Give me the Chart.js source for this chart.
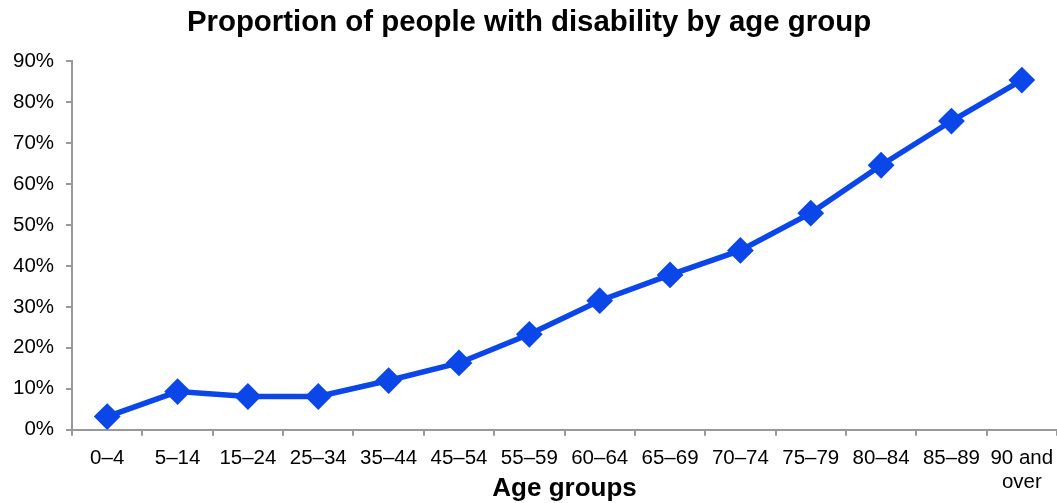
<!DOCTYPE html>
<html><head><meta charset="utf-8">
<script src="https://cdn.jsdelivr.net/npm/chart.js@4"></script>
<style>html,body{margin:0;padding:0;background:#fff}#wrap{width:1057px;height:503px}</style>
</head><body><div id="wrap"><canvas id="c"></canvas></div>
<script>
const categories = ["0–4","5–14","15–24","25–34","35–44","45–54","55–59","60–64","65–69","70–74","75–79","80–84","85–89",["90 and","over"]];
const proportion = [3.2, 9.3, 8.1, 8.1, 12.0, 16.3, 23.3, 31.5, 37.8, 43.8, 52.9, 64.6, 75.4, 85.4];
const yTicks = [0,10,20,30,40,50,60,70,80,90];
const FONT = "'Liberation Sans', Arial, sans-serif";
new Chart(document.getElementById('c'), {
  type: 'line',
  data: { labels: categories, datasets: [{
    data: proportion, borderColor: '#0B47E8', backgroundColor: '#0B47E8',
    borderWidth: 5.5, pointStyle: 'rectRot', pointRadius: 9.5, pointHoverRadius: 9.5, tension: 0
  }]},
  options: {
    responsive: true, maintainAspectRatio: false, animation: false,
    layout: { autoPadding: false, padding: { left: 1, right: 0, top: 0, bottom: 0 } },
    plugins: {
      legend: { display: false }, tooltip: { enabled: false },
      title: { display: true, text: 'Proportion of people with disability by age group',
        color: '#000', font: { family: FONT, size: 29.4, weight: 'bold', lineHeight: 1.2 }, padding: { top: 5, bottom: 21 } }
    },
    scales: {
      x: { offset: true,
        afterFit: s => { s.paddingRight = 0; },
        grid: { offset: true, drawOnChartArea: false, drawTicks: true, tickLength: 6, color: '#999', lineWidth: 2 },
        border: { color: '#999', width: 2 },
        ticks: { color: '#000', font: { family: FONT, size: 20.5, lineHeight: 1.15 }, maxRotation: 0, autoSkip: false, padding: 11 },
        title: { display: true, text: 'Age groups', color: '#000', font: { family: FONT, size: 26, weight: 'bold', lineHeight: 1.2 }, padding: { top: -32, bottom: -1 } }
      },
      y: { min: 0, max: 90,
        afterBuildTicks: s => { s.ticks = yTicks.map(v => ({ value: v })); },
        grid: { drawOnChartArea: false, drawTicks: true, tickLength: 6, color: '#999', lineWidth: 2 },
        border: { color: '#999', width: 2 },
        ticks: { color: '#000', font: { family: FONT, size: 20.5 }, padding: 12, callback: v => v + '%' }
      }
    }
  }
});
</script></body></html>
